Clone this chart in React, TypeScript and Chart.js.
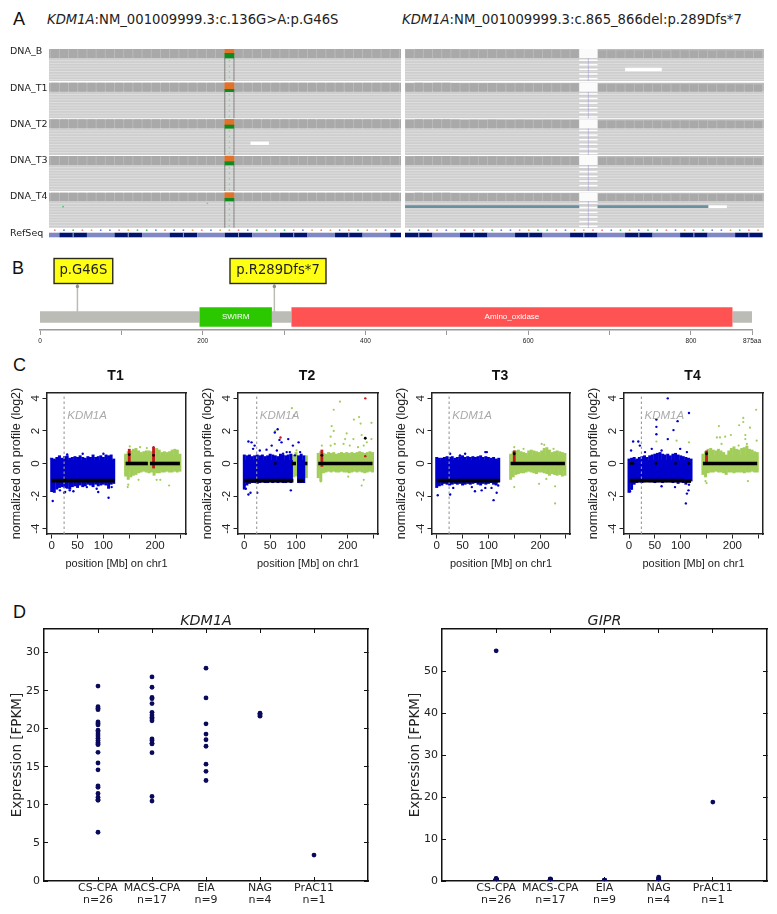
import React, { useEffect, useRef } from 'react';
import { Chart, registerables } from 'chart.js';

Chart.register(...registerables);

/* ---------- Panel A : read pile-ups ---------- */
const trackNames = ['DNA_B', 'DNA_T1', 'DNA_T2', 'DNA_T3', 'DNA_T4', 'RefSeq'];
const trackLabelRows = [3, 40, 76, 112, 148, 185];
const coverageTop = [0, 33.7, 70.3, 107, 143.7];
const coverageBottom = [9, 42.7, 79.3, 116, 152];
const readsBottom = [32, 69.3, 106, 142, 178.7];
const variantSplit = [4.3, 40.3, 76, 112.7, 149.3];
const leftBases = 'TCATGCCTGAACTCCGTCGGTCAGAATCGTGCTAGGCT';
const rightBases = 'ACTGCATTGACCTGAATCGGTTCAGCAATCGTACCGATG';
const rightDepth = [0.95, 1, 0.98, 1, 1, 0.97, 0.92, 0.95, 0.93, 0.96, 0.94, 0.93, 0.95, 0.93, 0.92, 0.94, 0.93, 0.92, 0.93, 0, 0, 0.85, 0.86, 0.85, 0.86, 0.84, 0.86, 0.85, 0.84, 0.86, 0.85, 0.84, 0.85, 0.83, 0.85, 0.84, 0.83, 0.82, 0.8];
const leftCodonShade = [0, 1, 0, 1, 0, 1, 0, 1, 0, 1, 0, 1, 0, 1];
const rightCodonShade = [1, 0, 1, 0, 1, 0, 1, 0, 1, 0, 1, 0, 1];

/* ---------- Panel B : protein ---------- */
const proteinLength = 875;
const domainNames = ['SWIRM', 'Amino_oxidase'];
const domainStart = [196, 309];
const domainEnd = [285, 851];
const mutationLabels = ['p.G46S', 'p.R289Dfs*7'];
const mutationResidue = [46, 288];
const proteinTicks = [0, 100, 200, 300, 400, 500, 600, 700, 800, 875];
const proteinTickLabels = ['0', '', '200', '', '400', '', '600', '', '800', '875aa'];

/* ---------- Panel C : copy number ---------- */
const cnTitles = ['T1', 'T2', 'T3', 'T4'];
const cnTicksX = [0, 50, 100, 150, 200, 250];
const cnLabelledX = [0, 50, 100, 200];
const cnTicksY = [-4, -2, 0, 2, 4];
const blueBins = [0, 5, 10, 15, 20, 25, 30, 35, 40, 45, 50, 55, 60, 65, 70, 75, 80, 85, 90, 95, 100, 105, 110, 115, 120];
const greenBins = [143, 148, 153, 158, 163, 168, 173, 178, 183, 188, 193, 198, 203, 208, 213, 218, 223, 228, 233, 238, 243, 248];

const t1BlueTop = [.35, .3, .4, .5, .35, .45, .5, .35, .4, .45, .4, .5, .4, .35, .45, .4, .55, .4, .45, .5, .4, .55, .5, .55, .3];
const t1BlueBottom = [-1.75, -1.8, -1.6, -1.5, -1.45, -1.5, -1.55, -1.6, -1.45, -1.4, -1.5, -1.35, -1.45, -1.4, -1.3, -1.35, -1.45, -1.3, -1.4, -1.35, -1.3, -1.35, -1.55, -1.3, -1.25];
const t1GreenTop = [.6, .75, .8, .9, .95, .8, .7, .75, .8, .8, .75, .85, .95, .85, .7, .75, .7, .75, .85, .9, .85, .6];
const t1GreenBottom = [-.8, -1.0, -.85, -.75, -.7, -.6, -.55, -.5, -.55, -.6, -.55, -.75, -.6, -.6, -.55, -.55, -.5, -.55, -.55, -.5, -.55, -.5];
const t2BlueTop = [.55, .5, .55, .45, .5, .55, .5, .55, .45, .5, .6, .55, .5, .45, .6, .55, .5, .55, .6, null, null, .5, .6, .5, null];
const t2BlueBottom = [-1.6, -1.35, -1.25, -1.2, -1.2, -1.25, -1.2, -1.15, -1.2, -1.2, -1.15, -1.2, -1.15, -1.2, -1.15, -1.2, -1.2, -1.15, -1.2, null, null, -1.2, -1.2, -1.2, null];
const t2GreenTop = [.65, .75, .65, .6, .7, .65, .7, .6, .65, .7, .65, .7, .65, .7, .65, .7, .75, .7, .65, .7, .75, .7];
const t2GreenBottom = [-.9, -1.1, -.6, -.55, -.5, -.55, -.5, -.55, -.55, -.5, -.55, -.55, -.6, -.55, -.5, -.55, -.5, -.55, -.6, -.55, -.5, -.55];
const t2PatchBins = [95, 100, 120];
const t2PatchTop = [.55, .7, .5];
const t2PatchBottom = [-.85, -.8, -.9];
const t3BlueTop = [.4, .35, .35, .4, .45, .4, .45, .35, .4, .45, .5, .4, .45, .4, .45, .4, .45, .5, .4, .45, .4, .35, .4, .3, .35];
const t3BlueBottom = [-1.5, -1.4, -1.35, -1.25, -1.3, -1.35, -1.3, -1.25, -1.3, -1.25, -1.35, -1.3, -1.25, -1.3, -1.25, -1.2, -1.3, -1.35, -1.25, -1.3, -1.25, -1.2, -1.3, -1.35, -1.15];
const t3GreenTop = [.6, .75, .8, .85, .75, .7, .65, .8, .85, .8, .75, .7, .8, .95, 1.0, .85, .7, .75, .8, .75, .7, .65];
const t3GreenBottom = [-1.0, -.85, -.7, -.65, -.6, -.6, -.55, -.5, -.55, -.6, -.65, -.55, -.55, -.6, -.65, -.75, -.65, -.7, -.75, -.7, -.8, -.75];
const t4BlueTop = [.3, .35, .4, .3, .4, .45, .5, .4, .5, .55, .6, .65, .7, .6, .55, .6, .5, .6, .65, .55, .5, .45, .4, .35, .3];
const t4BlueBottom = [-1.8, -1.6, -1.3, -1.2, -1.15, -1.2, -1.15, -1.1, -1.15, -1.15, -1.2, -1.15, -1.15, -1.2, -1.15, -1.15, -1.15, -1.2, -1.15, -1.25, -1.15, -1.2, -1.3, -1.15, -1.1];
const t4GreenTop = [.6, .75, .9, .95, .85, .8, .9, .8, .7, .55, .8, .95, 1.05, .9, .85, .95, 1.0, 1.1, .9, .85, .75, .7];
const t4GreenBottom = [-.7, -.85, -.6, -.55, -.55, -.5, -.55, -.55, -.6, -.7, -.55, -.55, -.6, -.55, -.55, -.55, -.6, -.55, -.55, -.5, -.55, -.55];

const t1BlueDots = [[2, -2.3], [26, -1.75], [35, -1.65], [42, -1.7], [90, -1.75], [110, -2.1], [24, -1.8], [16, -1.65], [68, -1.45], [87, -1.55], [116, -1.45], [60, .6], [100, .6], [30, .55]];
const t1GreenDots = [[147, -1.45], [148, -1.3], [210, -1.0], [227, -1.35], [203, -1.0], [168, -1.0], [151, 1.05], [171, 1.0], [184, .95], [-2, .3]];
const t2BlueDots = [[64.5, 2.1], [59, 1.9], [85, 1.5], [68, 1.45], [8, 1.35], [14, 1.3], [20, 1.1], [17, .9], [30, .8], [43, .85], [53, 1.1], [63, .8], [72, 1.3], [75, .6], [82, .7], [94, 1.1], [105, 1.3], [108, .7], [98, .5], [69, .4], [88, .7], [8, -1.9], [12, -1.8], [25, -1.8], [90, -1.65], [3, -1.55], [1, -1.3]];
const t2GreenDots = [[92, 3.4], [96, 2.95], [60, 2.0], [185, 3.8], [173, 3.3], [212, 2.7], [222, 2.85], [246, 2.5], [225, 2.45], [169, 2.3], [173, 2.0], [198, 1.85], [195, 1.5], [167, 1.65], [167, 1.1], [175, 1.2], [211, 1.5], [227, 1.75], [237, 1.3], [246, 1.5], [204, 1.1], [220, 1.0], [150, 1.1], [192, 1.2], [231, 1.1], [101, .8], [227, -1.35], [148, -1.1], [201, -.8], [231, -1.0]];
const t3BlueDots = [[2, -1.95], [26, -1.9], [110, -2.25], [116, -1.8], [74, -1.7], [87, -1.65], [68, -1.45], [94, -1.5], [26, .6], [55, .6], [94, .7], [97, .7], [45, .5], [106, -1.5], [119, -1.35], [32, -1.5]];
const t3GreenDots = [[229, -2.45], [150, -1.45], [198, -1.25], [229, -1.4], [212, -.95], [203, 1.2], [208, 1.15], [150, 1.0], [168, .9], [226, .9]];
const t4BlueDots = [[75, 4.0], [116, 3.1], [53, 2.7], [94, 2.6], [53, 2.25], [53, 1.8], [75, 1.5], [86, 2.05], [8, 1.35], [18, 1.35], [21, 1.1], [4, .8], [31, .7], [44, .9], [63, .8], [99, .9], [112, .7], [110, -2.45], [115, -1.65], [112, -1.85], [89, -1.45], [2, -1.7], [5, -1.55], [116, -1.3], [63, -1.4]];
const t4GreenDots = [[246, 3.3], [221, 2.8], [221, 2.55], [234, 2.2], [174, 2.3], [213, 2.35], [197, 1.75], [170, 1.6], [176, 1.6], [186, 1.65], [225, 1.75], [179, 1.2], [225, 1.5], [228, 1.2], [116, 1.3], [53, 1.35], [92, 1.4], [230, -1.08], [148, -1.08], [150, -1.2], [247, 1.4], [212, 1.1]];

const t1Core = [[0, 121]];
const t2Core = [[0, 94], [103, 116]];
const t3Core = [[0, 121]];
const t4Core = [[0, 121]];
const t1Segments = [[0, 122, -1.05], [143, 186, 0], [190, 248, 0]];
const t2Segments = [[0, 95, -1.05], [103, 116, -1.05], [92, 100, 0], [117, 122, 0], [143, 248, 0]];
const t3Segments = [[0, 122, -1.05], [143, 248, 0]];
const t4Segments = [[0, 107, -1.05], [107, 120, -1.08], [143, 248, 0]];
const t1RedStrips = [[150, 0, .9], [197, -.3, 1.0]];
const t2RedStrips = [[150, -.2, .85]];
const t3RedStrips = [[150, 0, .8]];
const t4RedStrips = [[150, 0, .8]];
const t1RedDots = [[197, 1.0]];
const t2RedDots = [[234, 4.0], [234, .45], [70, 1.6]];
const t3RedDots: number[][] = [];
const t4RedDots: number[][] = [];
const t1BlackDots = [[150, .55], [197, .5]];
const t2BlackDots = [[234, 1.55], [60, 0], [150, .5]];
const t3BlackDots = [[150, .6]];
const t4BlackDots = [[3, 0], [8, 0], [52, 0], [90, 0], [116, 0], [150, .6]];
const geneMb = 24;

/* ---------- Panel D : expression ---------- */
const groupNames = ['CS-CPA', 'MACS-CPA', 'EIA', 'NAG', 'PrAC11'];
const groupCounts = [26, 17, 9, 4, 1];
const kdmCsCpa = [25.6, 22.9, 22.7, 22.5, 20.9, 20.7, 20.5, 19.8, 19.6, 19.3, 19.05, 18.75, 18.45, 18.2, 18.0, 17.9, 16.9, 15.5, 14.6, 12.5, 12.3, 11.5, 11.0, 10.7, 10.6, 6.4];
const kdmMacsCpa = [26.8, 25.45, 24.1, 23.95, 23.3, 22.15, 21.8, 21.5, 21.3, 21.05, 18.65, 18.45, 18.1, 18.0, 16.85, 11.1, 10.5];
const kdmEia = [27.95, 24.05, 20.65, 19.3, 18.55, 17.7, 15.35, 14.4, 13.2];
const kdmNag = [22.05, 21.95, 21.8, 21.65];
const kdmPrac = [3.4];
const giprCsCpa = [54.8, 0.6, 0.5, 0.5, 0.4, 0.4, 0.4, 0.3, 0.3, 0.3, 0.3, 0.3, 0.2, 0.2, 0.2, 0.2, 0.2, 0.2, 0.1, 0.1, 0.1, 0.1, 0.1, 0.1, 0.1, 0];
const giprMacsCpa = [0.5, 0.4, 0.4, 0.3, 0.3, 0.3, 0.2, 0.2, 0.2, 0.2, 0.1, 0.1, 0.1, 0.1, 0.1, 0, 0];
const giprEia = [0.2, 0.2, 0.1, 0.1, 0.1, 0.1, 0, 0, 0];
const giprNag = [0.9, 0.6, 0.4, 0.3];
const giprPrac = [18.8];
const kdmTicks = [0, 5, 10, 15, 20, 25, 30];
const giprTicks = [0, 10, 20, 30, 40, 50];

/* ---------- helpers ---------- */
const SANS = '"Liberation Sans"';
const DEJA = '"DejaVu Sans"';
const INK = '#222';
const BLUE = '#0000cd';
const GREEN = '#a2cd5a';
const RED = '#c4161c';

const hline = (x0: number, x1: number, y: number, color: string, width: number) => ({
  type: 'line', data: [{ x: x0, y }, { x: x1, y }], borderColor: color, borderWidth: width, pointRadius: 0, fill: false, tension: 0,
});
const vline = (x: number, y0: number, y1: number, color: string, width: number, dash: number[] = []) => ({
  type: 'line', data: [{ x, y: y0 }, { x, y: y1 }], borderColor: color, borderWidth: width, borderDash: dash, pointRadius: 0, fill: false, tension: 0,
});
const dots = (pairs: number[][], color: string, r: number) => ({
  type: 'scatter', data: pairs.map(([x, y]) => ({ x, y })), backgroundColor: color, borderWidth: 0, pointRadius: r, showLine: false,
});
const bars = (data: { x: number; y: number[] }[], color: string, pct: number) => ({
  type: 'bar', data, backgroundColor: color, barPercentage: pct, categoryPercentage: 1, grouped: false, borderWidth: 0,
});
const layered = (sets: any[]) => sets.map((d, i) => ({ ...d, order: -i }));
const envelope = (bins: number[], top: (number | null)[], bottom: (number | null)[]) =>
  bins.map((x, i) => ({ x, y: [bottom[i] as number, top[i] as number] })).filter((d) => d.y[0] != null && d.y[1] != null);
const setTicks = (values: number[]) => (scale: any) => {
  scale.ticks = values.map((value) => ({ value }));
};
const fitW = (w: number) => (s: any) => { s.width = w; };
const fitH = (h: number) => (s: any) => { s.height = h; };

type Frame = { x0: number; y0: number; x1: number; y1: number; L: number; T: number; R: number; B: number };
const rectOf = (f: Frame) => ({ x: f.x0 - f.L, y: f.y0 - f.T, w: f.x1 - f.x0 + f.L + f.R, h: f.y1 - f.y0 + f.T + f.B });
const baseOptions = (padding: any, scales: any) => ({
  animation: false, responsive: false, maintainAspectRatio: false, devicePixelRatio: 1, events: [], layout: { padding, autoPadding: false }, scales,
  plugins: { legend: { display: false }, tooltip: { enabled: false }, title: { display: false } },
});
const hiddenLinear = (min: number, max: number, reverse = false) => ({
  type: 'linear', display: false, min, max, reverse, offset: false, beginAtZero: false, grid: { offset: false },
});
const textPlugin = (id: string, draw: (chart: any, ctx: CanvasRenderingContext2D) => void) => ({
  id,
  afterDatasetsDraw(chart: any) {
    const ctx = chart.ctx;
    ctx.save();
    draw(chart, ctx);
    ctx.restore();
  },
});

/* ---------- Panel A builder ---------- */
function igvDatasets(side: 'left' | 'right') {
  const left = side === 'left';
  const xMin = left ? 0.37 : 0;
  const xMax = left ? 38.68 : 39.15;
  const sets: any[] = [];
  const bases = left ? leftBases : rightBases;
  coverageTop.forEach((top, t) => {
    const bottom = coverageBottom[t];
    const end = readsBottom[t];
    sets.push(hline(xMin, xMax, (top + bottom) / 2, '#bbbbbb', bottom - top));
    sets.push(hline(xMin, xMax, (bottom + end) / 2, '#cecece', end - bottom));
    for (let y = bottom + 2.7; y < end - 0.5; y += 2.7) sets.push(hline(xMin, xMax, y, 'rgba(255,255,255,0.42)', 0.8));
    if (left) {
      const cov = [];
      for (let b = 0; b <= 39; b++) if (b !== 20) cov.push({ x: b, y: [top, bottom] });
      sets.push(bars(cov, '#a9a9a9', 0.9));
      sets.push(bars([{ x: 20, y: [top, variantSplit[t]] }], '#e2712a', 1));
      sets.push(bars([{ x: 20, y: [variantSplit[t], bottom] }], '#108a1e', 1));
      sets.push(vline(19.5, bottom, end, 'rgba(100,100,100,0.3)', 1));
      sets.push(vline(20.5, bottom, end, 'rgba(100,100,100,0.25)', 1));
      sets.push(vline(20, bottom + 2, end, '#86dc96', 1.4, [1.5, 4]));
    } else {
      const cov = rightDepth.map((d, b) => ({ x: b + 0.5, y: [bottom - (bottom - top) * d, bottom] }));
      sets.push(hline(19, 21, (top + bottom) / 2, '#fbfbfb', bottom - top));
      sets.push(bars(cov.slice(0, 19), '#a9a9a9', 0.9));
      sets.push(bars(cov.slice(21), '#a9a9a9', 0.9));
      for (let y = bottom + 2.2; y < end - 1; y += 4.6) {
        sets.push(hline(19, 21, y, '#ffffff', 1.5));
      }
      sets.push(vline(20, bottom, end, 'rgba(165,155,215,0.5)', 1.2));
    }
  });
  if (left) {
    sets.push(hline(22.3, 24.3, 94.3, '#ffffff', 3.4));
    sets.push(dots([[1.9, 157.7]], '#47c96a', 0.9));
    sets.push(dots([[17.6, 154.3]], '#e79a9a', 0.9));
  } else {
    sets.push(hline(24, 28, 20.5, '#ffffff', 3.4));
    sets.push(hline(0, 19, 157.7, '#6a8f9f', 2.8));
    sets.push(hline(21, 33.1, 157.7, '#6a8f9f', 2.8));
    sets.push(hline(33.1, 35.1, 157.7, '#ffffff', 2.8));
  }
  const colors: Record<string, string> = { A: '#4fc06a', C: '#6a7fd8', G: '#e2a35a', T: '#e8837c' };
  bases.split('').forEach((c, i) => {
    const x = left ? i + 1 : i + 0.5;
    sets.push(dots([[x, 181.2]], colors[c], 0.9));
  });
  const shades = left ? leftCodonShade : rightCodonShade;
  const start = left ? -1.5 : 0;
  shades.forEach((s, i) => {
    sets.push(hline(Math.max(xMin, start + i * 3), Math.min(xMax, start + (i + 1) * 3), 186, s ? '#00146e' : '#7f88c4', 4.6));
    if (s) sets.push(vline(start + i * 3 + 1.5, 183.7, 188.3, 'rgba(200,205,235,0.6)', 0.6));
  });
  return { sets: layered(sets), xMin, xMax };
}

function igvSpec(side: 'left' | 'right') {
  const left = side === 'left';
  const f: Frame = left
    ? { x0: 49, y0: 49, x1: 401, y1: 238, L: 39, T: 14, R: 0, B: 14 }
    : { x0: 405, y0: 49, x1: 764, y1: 238, L: 0, T: 0, R: 0, B: 0 };
  const build = () => {
    const { sets, xMin, xMax } = igvDatasets(side);
    const y = left
      ? {
          type: 'linear', min: 0, max: 189, reverse: true, position: 'left', afterFit: fitW(f.L), afterBuildTicks: setTicks(trackLabelRows),
          grid: { display: false }, border: { display: false },
          ticks: { autoSkip: false, crossAlign: 'far', color: INK, font: { family: DEJA, size: 9.5 }, callback: (_v: any, i: number) => trackNames[i] },
        }
      : hiddenLinear(0, 189, true);
    return {
      type: 'line',
      data: { datasets: sets },
      options: baseOptions({ left: 0, top: f.T, right: f.R, bottom: f.B }, { x: hiddenLinear(xMin, xMax), y }),
    };
  };
  return { rect: rectOf(f), build };
}

/* ---------- Panel B builder ---------- */
function proteinSpec() {
  const f: Frame = { x0: 40, y0: 254, x1: 752, y1: 330, L: 40, T: 0, R: 25, B: 20 };
  const build = () => {
    const sets: any[] = [];
    mutationResidue.forEach((r) => {
      sets.push(vline(r, 46.5, 18, '#bcbcb4', 1.5));
      sets.push(dots([[r, 43.5]], '#8e8e88', 1.7));
    });
    sets.push(hline(0, proteinLength, 13, '#bcbcb6', 11.5));
    sets.push(hline(domainStart[0], domainEnd[0], 13, '#ffffff', 21));
    sets.push(hline(domainStart[1], domainEnd[1], 13, '#ffffff', 21));
    sets.push(hline(domainStart[0], domainEnd[0], 13, '#2bc800', 19.5));
    sets.push(hline(domainStart[1], domainEnd[1], 13, '#ff5252', 19.5));
    const boxCenter = [83.4, 278];
    const boxWidth = [58.7, 96];
    const plugin = textPlugin('protein-text', (chart, ctx) => {
      const xs = chart.scales.x;
      const ys = chart.scales.y;
      ctx.textAlign = 'center';
      ctx.textBaseline = 'middle';
      ctx.fillStyle = '#ffffff';
      ctx.font = `8px ${SANS}`;
      domainNames.forEach((n, i) => {
        ctx.fillText(n, xs.getPixelForValue((domainStart[i] + domainEnd[i]) / 2), ys.getPixelForValue(13));
      });
      ctx.font = `13.2px ${DEJA}`;
      mutationLabels.forEach((t, i) => {
        const cx = boxCenter[i];
        const w = boxWidth[i];
        const bottom = ys.getPixelForValue(46.5);
        ctx.fillStyle = '#ffff14';
        ctx.strokeStyle = '#2a2a1a';
        ctx.lineWidth = 1.4;
        ctx.fillRect(cx - w / 2, bottom - 25, w, 25);
        ctx.strokeRect(cx - w / 2, bottom - 25, w, 25);
        ctx.fillStyle = INK;
        ctx.fillText(t, cx, bottom - 12.5);
      });
    });
    return {
      type: 'line',
      data: { datasets: layered(sets) },
      options: baseOptions({ left: f.L, top: 0, right: f.R, bottom: 0 }, {
        x: {
          type: 'linear', min: 0, max: proteinLength, position: 'bottom', offset: false, afterFit: fitH(f.B), afterBuildTicks: setTicks(proteinTicks),
          grid: { drawOnChartArea: false, color: '#9a9a9a', tickLength: 5, offset: false },
          border: { color: '#9a9a9a', width: 1.5 },
          ticks: { autoSkip: false, maxRotation: 0, padding: 2, color: INK, font: { family: SANS, size: 6.5 }, callback: (_v: any, i: number) => proteinTickLabels[i] },
        },
        y: hiddenLinear(0, 76),
      }),
      plugins: [plugin],
    };
  };
  return { rect: rectOf(f), build };
}

/* ---------- Panel C builder ---------- */
const cnPanels = [
  { box: [47, 186], zero: 51.7, left: 9, core: t1Core, blue: [t1BlueTop, t1BlueBottom], green: [t1GreenTop, t1GreenBottom], blueDots: t1BlueDots, greenDots: t1GreenDots, segs: t1Segments, strips: t1RedStrips, redDots: t1RedDots, blackDots: t1BlackDots },
  { box: [238, 378], zero: 244.3, left: 200, core: t2Core, blue: [t2BlueTop, t2BlueBottom], green: [t2GreenTop, t2GreenBottom], blueDots: t2BlueDots, greenDots: t2GreenDots, segs: t2Segments, strips: t2RedStrips, redDots: t2RedDots, blackDots: t2BlackDots },
  { box: [432, 570], zero: 436.7, left: 394, core: t3Core, blue: [t3BlueTop, t3BlueBottom], green: [t3GreenTop, t3GreenBottom], blueDots: t3BlueDots, greenDots: t3GreenDots, segs: t3Segments, strips: t3RedStrips, redDots: t3RedDots, blackDots: t3BlackDots },
  { box: [624, 763], zero: 629, left: 586, core: t4Core, blue: [t4BlueTop, t4BlueBottom], green: [t4GreenTop, t4GreenBottom], blueDots: t4BlueDots, greenDots: t4GreenDots, segs: t4Segments, strips: t4RedStrips, redDots: t4RedDots, blackDots: t4BlackDots },
];

function cnSpec(i: number) {
  const p = cnPanels[i];
  const [x0, x1] = p.box;
  const f: Frame = { x0, y0: 393, x1, y1: 534, L: x0 - p.left, T: 31, R: 6, B: 37 };
  const pxPerMb = 0.517;
  const min = -(p.zero - x0) / pxPerMb;
  const max = (x1 - p.zero) / pxPerMb;
  const build = () => {
    const sets: any[] = [];
    sets.push(bars(envelope(greenBins, p.green[0], p.green[1]), GREEN, 1.15));
    sets.push(hline(141, 250, 0.05, GREEN, 15));
    sets.push(dots(p.greenDots, GREEN, 1.1));
    if (i === 1) sets.push(bars(envelope(t2PatchBins, t2PatchTop, t2PatchBottom), GREEN, 1.15));
    sets.push(bars(envelope(blueBins, p.blue[0], p.blue[1]), BLUE, 1.15));
    p.core.forEach(([a, b]) => sets.push(hline(a, b, -0.425, BLUE, 21)));
    sets.push(dots(p.blueDots, BLUE, 1.2));
    sets.push(vline(geneMb, -4.33, 4.33, '#9a9a9a', 1.1, [2.5, 2.5]));
    p.strips.forEach(([x, a, b]) => sets.push(vline(x, a, b, RED, 2.8)));
    sets.push(dots(p.redDots, RED, 1.2));
    p.segs.forEach(([a, b, y]) => sets.push(hline(a, b, y, '#000000', 3.6)));
    sets.push(dots(p.blackDots, '#000000', 1.4));
    const plugin = textPlugin('cn-text', (chart, ctx) => {
      const xs = chart.scales.x;
      const ys = chart.scales.y;
      ctx.fillStyle = '#aaaaaa';
      ctx.textAlign = 'left';
      ctx.textBaseline = 'middle';
      ctx.font = `italic 11.5px ${SANS}`;
      ctx.fillText('KDM1A', xs.getPixelForValue(geneMb + 6), ys.getPixelForValue(2.96));
      ctx.fillStyle = '#111';
      ctx.textAlign = 'center';
      ctx.font = `bold 14px ${SANS}`;
      ctx.fillText(cnTitles[i], (chart.chartArea.left + chart.chartArea.right) / 2 - 1, ys.top - 17);
    });
    const axisTitle = (text: string, size: number) => ({ display: true, text, color: INK, padding: 0, font: { family: SANS, size } });
    const boxSide = { display: false };
    return {
      type: 'line',
      data: { datasets: layered(sets) },
      options: baseOptions({ left: 0, top: f.T, right: f.R, bottom: 0 }, {
        x: {
          type: 'linear', min, max, position: 'bottom', offset: false, afterFit: fitH(f.B), afterBuildTicks: setTicks(cnTicksX),
          grid: { drawOnChartArea: false, tickLength: 4.5, color: INK, offset: false }, border: { color: INK, width: 1.5 },
          ticks: { autoSkip: false, maxRotation: 0, padding: 0, color: INK, font: { family: SANS, size: 11.5 }, callback: (v: number) => (cnLabelledX.includes(v) ? String(v) : '') },
          title: axisTitle('position [Mb] on chr1', 11),
        },
        y: {
          type: 'linear', min: -4.33, max: 4.33, position: 'left', afterFit: fitW(f.L), afterBuildTicks: setTicks(cnTicksY),
          grid: { drawOnChartArea: false, tickLength: 4.5, color: INK }, border: { color: INK, width: 1.5 },
          ticks: { autoSkip: false, minRotation: 90, maxRotation: 90, crossAlign: 'center', padding: 2, color: INK, font: { family: SANS, size: 11.5 }, callback: (v: number) => String(v) },
          title: axisTitle('normalized on profile (log2)', 12.5),
        },
        x2: { type: 'linear', axis: 'x', position: 'top', min, max, afterFit: fitH(0), grid: { drawOnChartArea: false, drawTicks: false }, border: { color: INK, width: 1.5 }, ticks: boxSide },
        y2: { type: 'linear', axis: 'y', position: 'right', min: -4.33, max: 4.33, afterFit: fitW(0), grid: { drawOnChartArea: false, drawTicks: false }, border: { color: INK, width: 1.5 }, ticks: boxSide },
      }),
      plugins: [plugin],
    };
  };
  return { rect: rectOf(f), build };
}

/* ---------- Panel D builder ---------- */
function exprSpec(title: string, groups: number[][], x0: number, x1: number, yMax: number, ticksY: number[]) {
  const f: Frame = { x0, y0: 629, x1, y1: 881, L: 35, T: 25, R: 6, B: 30 };
  const groupTicks = [1, 2, 3, 4, 5];
  const build = () => {
    const sets = groups.map((vals, g) => dots(vals.map((v) => [g + 1, v]), '#0a0a5c', 2.4));
    const plugin = textPlugin('expr-text', (chart, ctx) => {
      ctx.fillStyle = INK;
      ctx.textAlign = 'center';
      ctx.textBaseline = 'middle';
      ctx.font = `italic 14.3px ${DEJA}`;
      ctx.fillText(title, (chart.chartArea.left + chart.chartArea.right) / 2, chart.scales.y.top - 7.5);
    });
    const tickFont = { family: DEJA, size: 11, lineHeight: 1.1 };
    const side = (extra: any) => ({
      type: 'linear',
      grid: { drawOnChartArea: false, tickLength: -4, color: '#111' },
      border: { color: '#111', width: 1.5 },
      ...extra,
    });
    return {
      type: 'scatter',
      data: { datasets: layered(sets) },
      options: baseOptions({ left: 0, top: f.T, right: f.R, bottom: 0 }, {
        x: side({
          min: 0, max: 6, position: 'bottom', afterFit: fitH(f.B), afterBuildTicks: setTicks(groupTicks),
          ticks: { autoSkip: false, maxRotation: 0, padding: 5, color: INK, font: tickFont, callback: (v: number) => [groupNames[v - 1], 'n=' + groupCounts[v - 1]] },
        }),
        y: side({
          min: 0, max: yMax, position: 'left', afterFit: fitW(f.L), afterBuildTicks: setTicks(ticksY),
          ticks: { autoSkip: false, padding: 8, color: INK, font: tickFont, callback: (v: number) => String(v) },
          title: { display: true, text: 'Expression [FPKM]', color: INK, padding: 0, font: { family: DEJA, size: 13.5 } },
        }),
        x2: side({ axis: 'x', min: 0, max: 6, position: 'top', afterFit: fitH(0), afterBuildTicks: setTicks(groupTicks), ticks: { display: false } }),
        y2: side({ axis: 'y', min: 0, max: yMax, position: 'right', afterFit: fitW(0), afterBuildTicks: setTicks(ticksY), ticks: { display: false } }),
      }),
      plugins: [plugin],
    };
  };
  return { rect: rectOf(f), build };
}

const specs = [
  igvSpec('left'),
  igvSpec('right'),
  proteinSpec(),
  cnSpec(0),
  cnSpec(1),
  cnSpec(2),
  cnSpec(3),
  exprSpec('KDM1A', [kdmCsCpa, kdmMacsCpa, kdmEia, kdmNag, kdmPrac], 44, 368, 33.1, kdmTicks),
  exprSpec('GIPR', [giprCsCpa, giprMacsCpa, giprEia, giprNag, giprPrac], 442, 767, 60, giprTicks),
];

function ChartBox({ spec }: { spec: any }) {
  const ref = useRef<HTMLCanvasElement | null>(null);
  useEffect(() => {
    const chart = new Chart(ref.current as HTMLCanvasElement, spec.build());
    return () => chart.destroy();
  }, [spec]);
  const { x, y, w, h } = spec.rect;
  return <canvas ref={ref} width={w} height={h} style={{ position: 'absolute', left: x, top: y, width: w, height: h }} />;
}

const letterStyle = (left: number, top: number): React.CSSProperties => ({
  position: 'absolute', left, top, font: `18px ${SANS}`, color: '#111', lineHeight: '20px',
});
const headStyle = (left: number): React.CSSProperties => ({
  position: 'absolute', left, top: 12, font: `13.2px ${DEJA}`, color: INK, lineHeight: '16px', whiteSpace: 'nowrap',
});

export default function App() {
  return (
    <div style={{ position: 'absolute', left: 0, top: 0, width: 777, height: 914, overflow: 'hidden', background: '#fff', filter: 'blur(0.35px)' }}>
      <div style={letterStyle(13, 9)}>A</div>
      <div style={letterStyle(12, 258)}>B</div>
      <div style={letterStyle(13, 355)}>C</div>
      <div style={letterStyle(13, 602)}>D</div>
      <div style={headStyle(47)}><i>KDM1A</i>:NM_001009999.3:c.136G&gt;A:p.G46S</div>
      <div style={headStyle(402)}><i>KDM1A</i>:NM_001009999.3:c.865_866del:p.289Dfs*7</div>
      {specs.map((s, i) => <ChartBox key={i} spec={s} />)}
    </div>
  );
}
